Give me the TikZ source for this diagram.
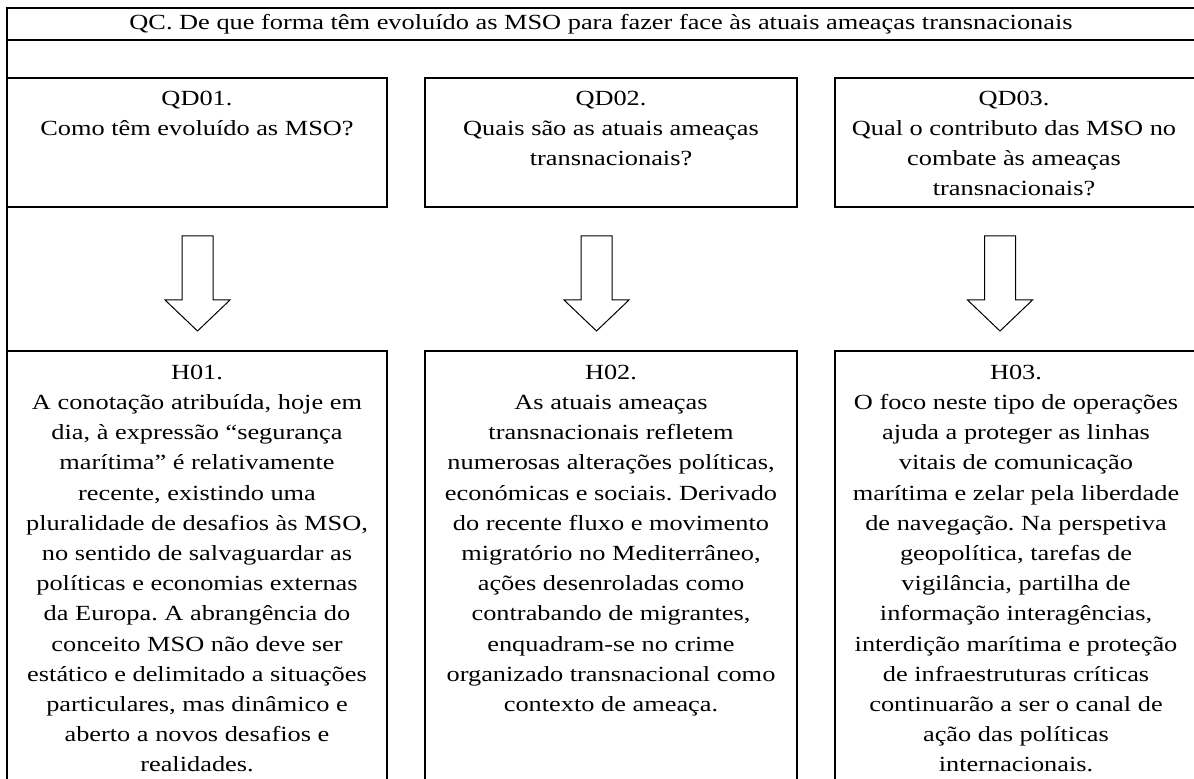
\documentclass[tikz,border=0pt]{standalone}
\usepackage{fontspec}
\setmainfont{Liberation Serif}[FakeStretch=1.22]
\frenchspacing

\begin{document}
\begin{tikzpicture}[x=0.5pt,y=-0.5pt,
    frame/.style={line width=1pt},
    blockarrow/.style={line width=0.5pt},
    boxtext/.style={anchor=north,inner sep=0pt,align=center,
      font=\fontsize{10.8}{15.1}\selectfont}]
      \useasboundingbox (0,0) rectangle (1194,779);
      \clip (0,0) rectangle (1194,779);

      % Outer frame and title row
      \draw[frame] (1230,8) -- (7,8) -- (7,800);
      \draw[frame] (7,40) -- (1230,40);
      \node[boxtext,anchor=base] (qc) at (601,30)
        {QC. De que forma têm evoluído as MSO para fazer face às atuais ameaças transnacionais};

      % Question boxes
      \draw[frame] (7,78) rectangle (387,207);
      \draw[frame] (425,78) rectangle (797,207);
      \draw[frame] (835,78) rectangle (1215,207);

      % Hypothesis boxes
      \draw[frame] (7,351) rectangle (387,800);
      \draw[frame] (425,351) rectangle (797,800);
      \draw[frame] (835,351) rectangle (1215,800);

      % Block arrows
      \foreach \cx in {197.5,596.5,1000}
        \draw[blockarrow] ({\cx-15.5},236) -- ({\cx+15.5},236) -- ({\cx+15.5},300)
          -- ({\cx+32.5},300) -- (\cx,331) -- ({\cx-32.5},300) -- ({\cx-15.5},300) -- cycle;

      \node[boxtext] (qd1) at (197,90.5) {QD01.\\Como têm evoluído as MSO?};
      \node[boxtext] (qd2) at (611,90.5) {QD02.\\Quais são as atuais ameaças\\transnacionais?};
      \node[boxtext] (qd3) at (1014,90.5) {QD03.\\Qual o contributo das MSO no\\combate às ameaças\\transnacionais?};

      \node[boxtext] (h1) at (197,364.5) {H01.\\A conotação atribuída, hoje em\\dia, à expressão “segurança\\marítima” é relativamente\\recente, existindo uma\\pluralidade de desafios às MSO,\\no sentido de salvaguardar as\\políticas e economias externas\\da Europa. A abrangência do\\conceito MSO não deve ser\\estático e delimitado a situações\\particulares, mas dinâmico e\\aberto a novos desafios e\\realidades.};
      \node[boxtext] (h2) at (611,364.5) {H02.\\As atuais ameaças\\transnacionais refletem\\numerosas alterações políticas,\\económicas e sociais. Derivado\\do recente fluxo e movimento\\migratório no Mediterrâneo,\\ações desenroladas como\\contrabando de migrantes,\\enquadram-se no crime\\organizado transnacional como\\contexto de ameaça.};
      \node[boxtext] (h3) at (1016,364.5) {H03.\\O foco neste tipo de operações\\ajuda a proteger as linhas\\vitais de comunicação\\marítima e zelar pela liberdade\\de navegação. Na perspetiva\\geopolítica, tarefas de\\vigilância, partilha de\\informação interagências,\\interdição marítima e proteção\\de infraestruturas críticas\\continuarão a ser o canal de\\ação das políticas\\internacionais.};
    \end{tikzpicture}
\end{document}
